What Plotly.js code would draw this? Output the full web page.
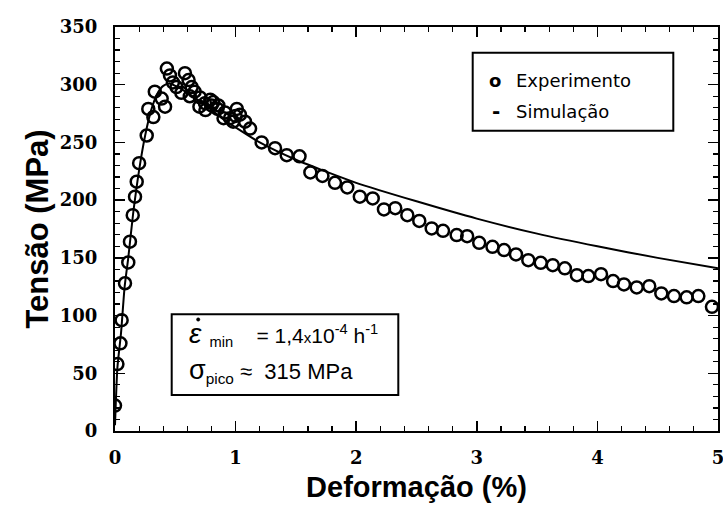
<!DOCTYPE html>
<html>
<head>
<meta charset="utf-8">
<script src="https://cdn.plot.ly/plotly-3.0.1.min.js"></script>
<style>html,body{margin:0;padding:0;background:#fff;}#chart{width:723px;height:506px;}</style>
</head>
<body>
<div id="chart"></div>
<script>
// Experimental data (Deformação %, Tensão MPa)
const expX = [0.0, 0.02, 0.045, 0.055, 0.083, 0.11, 0.124, 0.147, 0.166, 0.18, 0.2, 0.263, 0.276, 0.318, 0.33, 0.387, 0.415,
  0.43, 0.456, 0.48, 0.51, 0.55, 0.58, 0.61, 0.62, 0.636, 0.66, 0.7, 0.705, 0.746, 0.75, 0.79, 0.8, 0.815, 0.85, 0.857, 0.9, 0.912, 0.954, 0.98, 1.0, 1.01, 1.036, 1.078, 1.12, 1.216,
  1.327, 1.424, 1.53, 1.62, 1.72, 1.824, 1.926, 2.03, 2.137, 2.23, 2.324, 2.424, 2.523, 2.626, 2.72, 2.833, 2.92,
  3.02, 3.13, 3.226, 3.325, 3.427, 3.53, 3.63, 3.73, 3.83, 3.925, 4.03, 4.13, 4.22, 4.326, 4.43, 4.53, 4.635, 4.74, 4.837, 4.95];
const expY = [22, 58, 76, 96, 128, 146, 164, 187, 203, 216, 232, 256, 279, 272, 294, 288, 281,
  314, 308, 302, 298, 293, 310, 304, 290, 298, 294, 281, 289, 284, 278, 287, 282, 285, 279, 282, 271, 276, 271, 268, 273, 279, 274, 268, 262, 250,
  245, 239, 238, 224, 221, 215, 211, 203, 201.5, 192, 193, 187, 182, 175.5, 173.4, 169.7, 168.8,
  163, 159.6, 156.7, 153, 148, 145.7, 143.7, 140.9, 135, 134.2, 135.9, 129.9, 127, 124.4, 125.5, 119.2, 116.9, 115.8, 116.9, 107.6];

// Simulation curve
const simX = [0, 0.02, 0.05, 0.08, 0.11, 0.15, 0.2, 0.25, 0.3, 0.35, 0.4, 0.45, 0.5, 0.6, 0.7, 0.8, 0.9, 1.0, 1.2, 1.5, 2.0, 2.5, 3.0, 3.5, 4.0, 4.5, 5.0];
const simY = [5, 55, 85, 125, 150, 188, 226, 256, 278, 292, 299, 301, 299, 293, 286, 278, 270, 263, 250, 235, 215, 199, 184, 171, 160, 150, 141];

const xTicks = [0, 1, 2, 3, 4, 5];
const yTicks = [0, 50, 100, 150, 200, 250, 300, 350];

const legendNames = ['Experimento', 'Simulação'];
const NB = '\u00a0';
const noteLine1 = '<span style="font-size:28px"><i>ε</i></span><sub>' + NB + NB + 'min</sub>' + NB.repeat(4) + '= 1,4<span style="font-size:15px">x</span>10<sup>-4</sup>' + NB + 'h<sup>-1</sup>';
const noteLine2 = '<span style="font-size:27px">σ</span><sub>pico</sub>' + NB + '≈' + NB + NB + '315 MPa';

const tickFont = {family: 'DejaVu Serif', size: 18, color: '#000', weight: 'bold'};
const titleFont = {family: 'Liberation Sans, Arial', size: 29, color: '#000', weight: 'bold'};
const yTitleFont = {family: 'Liberation Sans, Arial', size: 31, color: '#000', weight: 'bold'};

const traces = [
  {x: simX, y: simY, mode: 'lines', name: legendNames[1], line: {color: '#000', width: 2, shape: 'spline', smoothing: 0.6}, showlegend: false},
  {x: expX, y: expY, mode: 'markers', name: legendNames[0], marker: {symbol: 'circle-open', size: 12, color: '#000', line: {color: '#000', width: 2.5}}, showlegend: false}
];

// paper-coordinate helpers (plot area: left 115, top 27, width 603, height 404)
const px = v => (v - 115) / 603;
const py = v => (431 - v) / 404;

const layout = {
  width: 723, height: 506,
  margin: {l: 115, r: 5, t: 27, b: 75},
  paper_bgcolor: '#fff', plot_bgcolor: '#fff',
  xaxis: {
    range: [0, 5], tickvals: xTicks, ticktext: xTicks.map(String),
    ticks: 'inside', ticklen: 10, tickwidth: 1.5, tickcolor: '#000',
    minor: {dtick: 0.2, ticks: 'inside', ticklen: 5, tickwidth: 1.2, tickcolor: '#000', showgrid: false},
    showline: true, linewidth: 2, linecolor: '#000', mirror: 'ticks',
    showgrid: false, zeroline: false, tickfont: tickFont, ticklabelstandoff: 9, ticklabeloverflow: 'allow',
    title: {text: 'Deformação (%)', font: titleFont, standoff: 10}
  },
  yaxis: {
    range: [0, 350], tickvals: yTicks, ticktext: yTicks.map(String),
    ticks: 'inside', ticklen: 10, tickwidth: 1.5, tickcolor: '#000',
    minor: {dtick: 10, ticks: 'inside', ticklen: 5, tickwidth: 1.2, tickcolor: '#000', showgrid: false},
    showline: true, linewidth: 2, linecolor: '#000', mirror: 'ticks',
    showgrid: false, zeroline: false, tickfont: tickFont, ticklabelstandoff: 12, ticklabeloverflow: 'allow',
    title: {text: 'Tensão (MPa)', font: yTitleFont, standoff: 2}
  },
  shapes: [
    {type: 'rect', xref: 'paper', yref: 'paper', x0: px(472.7), x1: px(673.3), y0: py(130.7), y1: py(52.7), line: {color: '#000', width: 2}, fillcolor: '#fff'},
    {type: 'rect', xref: 'paper', yref: 'paper', x0: px(171.7), x1: px(398.3), y0: py(395), y1: py(314.3), line: {color: '#000', width: 2}, fillcolor: '#fff'},
    // dot over epsilon
    {type: 'circle', xref: 'paper', yref: 'paper', x0: px(196.5), x1: px(199.9), y0: py(321.2), y1: py(317.8), line: {color: '#000', width: 0.5}, fillcolor: '#000'}
  ],
  annotations: [
    {xref: 'paper', yref: 'paper', x: px(495), y: py(80), text: '<b>o</b>', showarrow: false, xanchor: 'center', yanchor: 'middle', font: {family: 'DejaVu Sans', size: 18, color: '#000'}},
    {xref: 'paper', yref: 'paper', x: px(514), y: py(80), text: legendNames[0], showarrow: false, xanchor: 'left', yanchor: 'middle', font: {family: 'DejaVu Sans', size: 18, color: '#000'}},
    {xref: 'paper', yref: 'paper', x: px(496), y: py(111), text: '<b>-</b>', showarrow: false, xanchor: 'center', yanchor: 'middle', font: {family: 'DejaVu Sans', size: 20, color: '#000'}},
    {xref: 'paper', yref: 'paper', x: px(514), y: py(112), text: legendNames[1], showarrow: false, xanchor: 'left', yanchor: 'middle', font: {family: 'DejaVu Sans', size: 18, color: '#000'}},
    {xref: 'paper', yref: 'paper', x: px(187), y: py(334), text: noteLine1, showarrow: false, xanchor: 'left', yanchor: 'middle', font: {family: 'Liberation Sans, Arial', size: 21, color: '#000'}},
    {xref: 'paper', yref: 'paper', x: px(187), y: py(371), text: noteLine2, showarrow: false, xanchor: 'left', yanchor: 'middle', font: {family: 'Liberation Sans, Arial', size: 22, color: '#000'}}
  ]
};

Plotly.newPlot('chart', traces, layout, {staticPlot: true, displayModeBar: false});
</script>
</body>
</html>
